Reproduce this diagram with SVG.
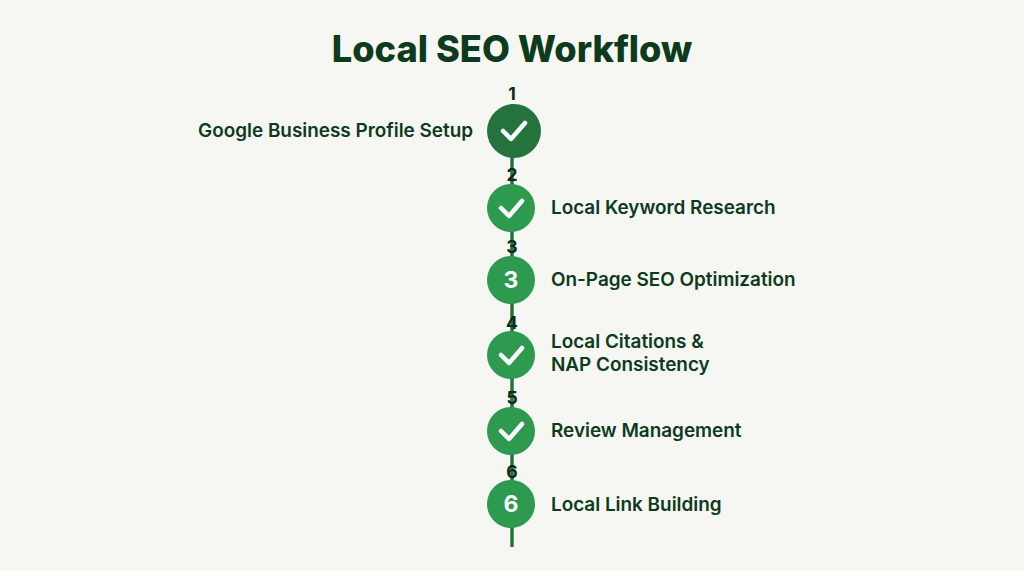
<svg xmlns="http://www.w3.org/2000/svg" width="1024" height="571" viewBox="0 0 1024 571">
<style>
.title{font-family:Inter,"Liberation Sans",sans-serif;font-weight:800;font-size:36.2px;fill:#0d3b1c}
.lbl{font-family:Inter,"Liberation Sans",sans-serif;font-weight:600;font-size:18.9px;fill:#0d3b1c}
.num{font-family:Inter,"Liberation Sans",sans-serif;font-weight:700;font-size:17.5px;fill:#0d2a16;text-anchor:middle}
.inner{font-family:Inter,"Liberation Sans",sans-serif;font-weight:700;font-size:23px;fill:#ffffff;text-anchor:middle}
.c{fill:#2e9a50}
.cd{fill:#24733c}
.chk{fill:none;stroke:#ffffff;stroke-width:4.5;stroke-linecap:round;stroke-linejoin:round}
.line{stroke:#23733b;stroke-width:3.5}
</style>
<rect width="1024" height="571" fill="#f6f6f3"/>
<text class="title" x="512" y="62" text-anchor="middle">Local SEO Workflow</text>
<g id="connectors">
<line class="line" x1="512" y1="104" x2="512" y2="547"/>
</g>
<g id="step1">
<text class="num" x="512" y="100">1</text>
<circle class="cd" cx="514" cy="131" r="27"/>
<path class="chk" d="M503 131 L511 139 L525 123"/>
<text class="lbl" x="473" y="137" text-anchor="end">Google Business Profile Setup</text>
</g>
<g id="step2">
<text class="num" x="512" y="181">2</text>
<circle class="c" cx="511" cy="208" r="24"/>
<path class="chk" d="M501 208 L509 216 L522 201"/>
<text class="lbl" x="551" y="214">Local Keyword Research</text>
</g>
<g id="step3">
<text class="num" x="512" y="253">3</text>
<circle class="c" cx="511" cy="280" r="24"/>
<text class="inner" x="511" y="288">3</text>
<text class="lbl" x="551" y="286">On-Page SEO Optimization</text>
</g>
<g id="step4">
<text class="num" x="512" y="329">4</text>
<circle class="c" cx="511" cy="355" r="24"/>
<path class="chk" d="M501 355 L509 363 L522 348"/>
<text class="lbl" x="551" y="348">Local Citations &amp;</text>
<text class="lbl" x="551" y="371">NAP Consistency</text>
</g>
<g id="step5">
<text class="num" x="512" y="404">5</text>
<circle class="c" cx="511" cy="431" r="24"/>
<path class="chk" d="M501 431 L509 439 L522 424"/>
<text class="lbl" x="551" y="437">Review Management</text>
</g>
<g id="step6">
<text class="num" x="512" y="478">6</text>
<circle class="c" cx="511" cy="504" r="24"/>
<text class="inner" x="511" y="512">6</text>
<text class="lbl" x="551" y="511">Local Link Building</text>
</g>
</svg>
